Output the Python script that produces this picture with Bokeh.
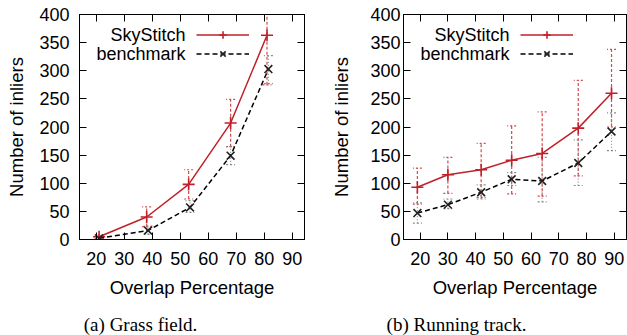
from bokeh.plotting import figure
from bokeh.layouts import row, column
from bokeh.models import (Range1d, FixedTicker, LinearAxis, Legend, LegendItem, Label,
                          Whisker, TeeHead, ColumnDataSource)
from bokeh.core.properties import value
from bokeh.embed import file_html
from bokeh.resources import INLINE

# ---------------- data ----------------
# (a) Grass field
a_sky_x = [21, 38, 53, 68, 81]
a_sky_y = [5, 40, 98, 207, 363]
a_sky_lo = [2, 23, 72, 165, 275]
a_sky_hi = [8, 58, 124, 249, 451]
a_bench_x = [21, 38.5, 53.5, 68, 81.5]
a_bench_y = [2, 16, 57, 149, 303]
a_bench_lo = [0, 9, 48, 133, 277]
a_bench_hi = [5, 24, 69, 165, 327]

# (b) Running track
b_sky_x = [19, 30, 42, 53, 64, 77, 89]
b_sky_y = [93, 115, 124, 141, 153, 198, 260]
b_sky_lo = [63, 82, 75, 81, 77, 113, 200]
b_sky_hi = [127, 146, 171, 202, 227, 283, 338]
b_bench_x = [19, 30, 42, 53, 64, 77, 89]
b_bench_y = [47, 62, 84, 107, 104, 136, 192]
b_bench_lo = [29, 55, 72, 96, 67, 96, 158]
b_bench_hi = [65, 72, 97, 119, 146, 177, 225]

x_ticks = [20, 30, 40, 50, 60, 70, 80, 90]
y_ticks = [0, 50, 100, 150, 200, 250, 300, 350, 400]
series_names = ["SkyStitch", "benchmark"]
captions = ["(a) Grass field.", "(b) Running track."]

RED = "#c0202a"
RED_ERR = "#d24a4a"
GRAY_ERR = "#8a8a8a"
FONT = "Liberation Sans"
TOTAL_W = 627


def make_panel(sx, sy, slo, shi, bx, by, blo, bhi, width, left_border,
               right_border, ylab_standoff, ytick_standoff):
    p = figure(width=width, height=310, output_backend="svg", toolbar_location=None,
               x_range=Range1d(14, 94.4), y_range=Range1d(0, 400),
               min_border_left=left_border, min_border_right=right_border,
               min_border_top=14, min_border_bottom=71, title=None)
    p.grid.visible = False
    p.outline_line_color = "black"
    p.outline_line_width = 1
    p.background_fill_color = "white"
    p.border_fill_color = "white"

    for ax in (p.xaxis[0], p.yaxis[0]):
        ax.major_tick_in = 7
        ax.major_tick_out = 0
        ax.minor_tick_in = 0
        ax.minor_tick_out = 0
        ax.axis_line_color = "black"
        ax.major_tick_line_color = "black"
        ax.major_label_text_font = FONT
        ax.major_label_text_font_size = "18px"
        ax.major_label_text_color = "black"
        ax.axis_label_text_font = FONT
        ax.axis_label_text_font_size = "18.5px"
        ax.axis_label_text_font_style = "normal"
        ax.axis_label_text_color = "black"
    p.xaxis[0].ticker = FixedTicker(ticks=x_ticks)
    p.yaxis[0].ticker = FixedTicker(ticks=y_ticks)
    p.xaxis[0].axis_label = "Overlap Percentage"
    p.yaxis[0].axis_label = "Number of inliers"
    p.xaxis[0].major_label_standoff = 12
    p.xaxis[0].axis_label_standoff = 9
    p.yaxis[0].major_label_standoff = ytick_standoff
    p.yaxis[0].axis_label_standoff = ylab_standoff

    # mirrored ticks on top and right
    top = LinearAxis(ticker=FixedTicker(ticks=x_ticks), major_tick_in=7, major_tick_out=0,
                     minor_tick_in=0, minor_tick_out=0, major_label_text_font_size="0px",
                     major_label_standoff=0, axis_line_color="black")
    right = LinearAxis(ticker=FixedTicker(ticks=y_ticks), major_tick_in=7, major_tick_out=0,
                       minor_tick_in=0, minor_tick_out=0, major_label_text_font_size="0px",
                       major_label_standoff=0, axis_line_color="black")
    p.add_layout(top, "above")
    p.add_layout(right, "right")

    # error bars
    s_src = ColumnDataSource(dict(x=sx, y=sy, lo=slo, hi=shi))
    b_src = ColumnDataSource(dict(x=bx, y=by, lo=blo, hi=bhi))
    for src, col, dash in ((s_src, RED_ERR, "3 2"), (b_src, GRAY_ERR, "1 2")):
        w = Whisker(base="x", lower="lo", upper="hi", source=src, line_color=col,
                    line_width=1.2, line_dash=dash,
                    upper_head=TeeHead(size=9, line_color=col, line_width=1.2, line_dash="2 2"),
                    lower_head=TeeHead(size=9, line_color=col, line_width=1.2, line_dash="2 2"))
        p.add_layout(w)

    l1 = p.line("x", "y", source=s_src, line_color=RED, line_width=1.5)
    m1 = p.scatter("x", "y", source=s_src, marker="cross", size=12, line_color=RED,
                   line_width=1.6)
    l2 = p.line("x", "y", source=b_src, line_color="black", line_width=1.5, line_dash="5 3")
    m2 = p.scatter("x", "y", source=b_src, marker="x", size=11, line_color="#222222",
                   line_width=1.6)

    legend = Legend(items=[LegendItem(label=value(" "), renderers=[l1, m1]),
                           LegendItem(label=value(" "), renderers=[l2, m2])],
                    location=(117, 176), glyph_width=53, glyph_height=19, label_width=0,
                    label_height=19, label_standoff=0, padding=0, spacing=0, margin=0,
                    border_line_alpha=0, background_fill_alpha=0,
                    label_text_font_size="1px")
    p.add_layout(legend, "center")
    for name, yy in zip(series_names, (205, 186)):
        p.add_layout(Label(x=106, y=yy, x_units="screen", y_units="screen", text=name,
                           text_align="right", text_baseline="middle",
                           text_font=FONT, text_font_size="18px",
                           text_color="black"))
    return p


pa = make_panel(a_sky_x, a_sky_y, a_sky_lo, a_sky_hi, a_bench_x, a_bench_y, a_bench_lo,
                a_bench_hi, 318, 79, 14, 9, 10)
pb = make_panel(b_sky_x, b_sky_y, b_sky_lo, b_sky_hi, b_bench_x, b_bench_y, b_bench_lo,
                b_bench_hi, 309, 85, 1, 15, 3)

# strip with the two sub-figure captions (pixel space of the strip)
cap = figure(width=TOTAL_W, height=25, output_backend="svg", toolbar_location=None,
             x_range=Range1d(0, TOTAL_W), y_range=Range1d(0, 25),
             min_border_left=0, min_border_right=0, min_border_top=0, min_border_bottom=0,
             title=None)
cap.axis.visible = False
cap.grid.visible = False
cap.outline_line_color = None
cap.background_fill_color = "white"
cap.border_fill_color = "white"
cap.text(x=[140, 456], y=[11, 11], text=captions, text_align="center",
         text_baseline="middle", text_font=value("Liberation Serif"),
         text_font_size="19px", text_color="black")

layout = column(row(pa, pb, spacing=0), cap, spacing=0)
open("out.html", "w").write(file_html(layout, INLINE))
